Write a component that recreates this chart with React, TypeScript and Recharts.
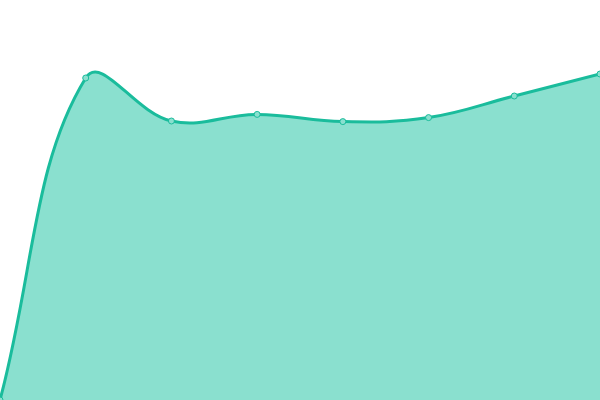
import React from "react";
import { AreaChart, Area, XAxis, YAxis } from "recharts";

const categories = ["A", "B", "C", "D", "E", "F", "G", "H"];
const values = [0, 80.5, 69.75, 71.4, 69.6, 70.6, 76, 81.5];

const data = categories.map((c, i) => ({ name: c, value: values[i] }));

const TENSION = 0.4;

// Chart.js-style spline (tension-based bezier control points)
function splineCurve(context: any) {
  let pts: [number, number][] = [];
  let line = NaN;
  const draw = () => {
    const n = pts.length;
    if (!n) return;
    const cps: { px: number; py: number; nx: number; ny: number }[] = [];
    for (let i = 0; i < n; i++) {
      const prev = pts[i - 1] || pts[i];
      const cur = pts[i];
      const next = pts[i + 1] || pts[i];
      const d01 = Math.hypot(cur[0] - prev[0], cur[1] - prev[1]);
      const d12 = Math.hypot(next[0] - cur[0], next[1] - cur[1]);
      let s01 = d01 / (d01 + d12);
      let s12 = d12 / (d01 + d12);
      if (!isFinite(s01)) s01 = 0;
      if (!isFinite(s12)) s12 = 0;
      const fa = TENSION * s01;
      const fb = TENSION * s12;
      cps.push({
        px: cur[0] - fa * (next[0] - prev[0]),
        py: cur[1] - fa * (next[1] - prev[1]),
        nx: cur[0] + fb * (next[0] - prev[0]),
        ny: cur[1] + fb * (next[1] - prev[1]),
      });
    }
    if (line) context.lineTo(pts[0][0], pts[0][1]);
    else context.moveTo(pts[0][0], pts[0][1]);
    for (let i = 1; i < n; i++) {
      context.bezierCurveTo(cps[i - 1].nx, cps[i - 1].ny, cps[i].px, cps[i].py, pts[i][0], pts[i][1]);
    }
  };
  return {
    areaStart() {
      line = 0;
    },
    areaEnd() {
      line = NaN;
    },
    lineStart() {
      pts = [];
    },
    lineEnd() {
      draw();
      if (line || (line !== 0 && pts.length === 1)) context.closePath();
      line = 1 - line;
    },
    point(x: number, y: number) {
      pts.push([+x, +y]);
    },
  };
}

export default function App() {
  return (
    <div style={{ position: "fixed", left: 0, top: 0, width: 600, height: 400, background: "#fff" }}>
      <AreaChart width={600} height={400} data={data} margin={{ top: 0, right: 0, bottom: 0, left: 0 }}>
        <XAxis dataKey="name" hide />
        <YAxis hide domain={[0, 100]} />
        <Area
          type={splineCurve as any}
          dataKey="value"
          stroke="#1abc9c"
          strokeWidth={3}
          fill="#8ae0cf"
          fillOpacity={1}
          dot={{ r: 3, fill: "#8ae0cf", stroke: "#1abc9c", strokeWidth: 1 }}
          activeDot={false}
          isAnimationActive={false}
        />
      </AreaChart>
    </div>
  );
}
